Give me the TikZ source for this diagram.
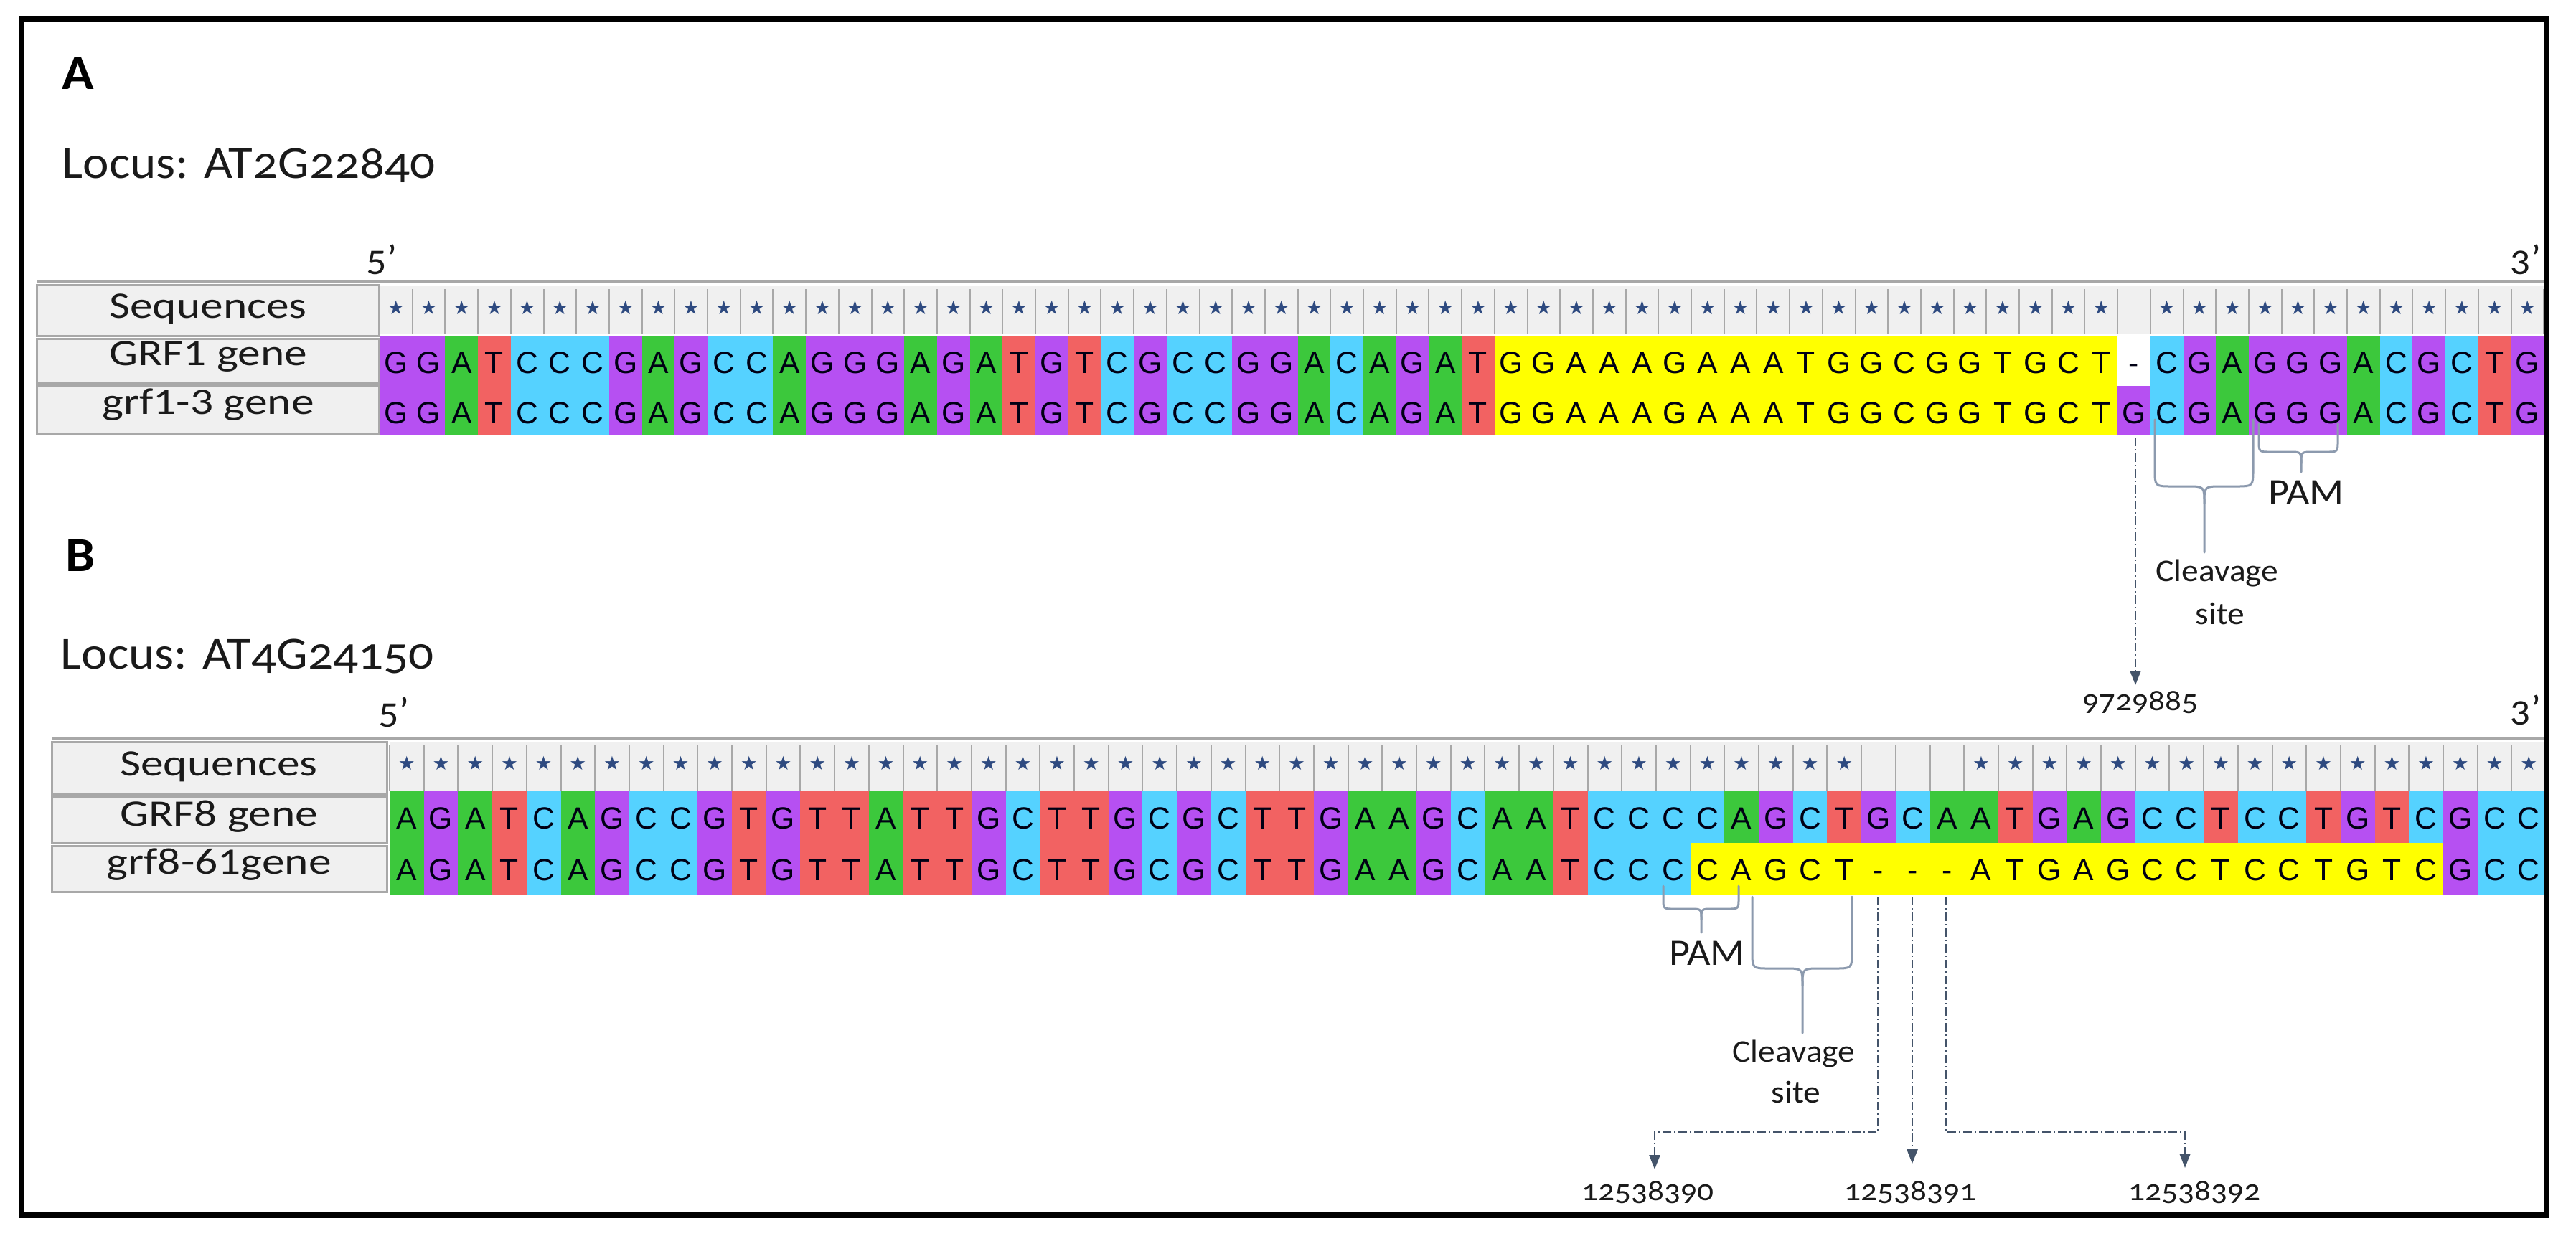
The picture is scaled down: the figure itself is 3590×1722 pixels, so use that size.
\documentclass[tikz,border=0pt]{standalone}
\usepackage{fontspec}
\setmainfont{Carlito}[FakeStretch=1.08,Numbers=OldStyle]
\newfontfamily\labfont{Carlito}[FakeStretch=1.22]
\newfontfamily\nucfont{Liberation Sans}
\newfontfamily\symfont{DejaVu Sans}
\usetikzlibrary{arrows.meta}
\definecolor{nucA}{RGB}{60,200,60}
\definecolor{nucC}{RGB}{85,210,255}
\definecolor{nucG}{RGB}{182,80,242}
\definecolor{nucT}{RGB}{242,98,98}
\definecolor{nucX}{RGB}{255,255,255}
\definecolor{hiyel}{RGB}{255,255,0}
\definecolor{starcol}{RGB}{46,74,128}
\definecolor{cellbg}{RGB}{240,240,240}
\definecolor{sepcol}{RGB}{168,168,168}
\definecolor{arrcol}{RGB}{68,84,106}
\definecolor{bracecol}{RGB}{140,154,174}
\definecolor{txtcol}{RGB}{26,26,26}
\def\glyphA{A}\def\glyphC{C}\def\glyphG{G}\def\glyphT{T}\def\glyphX{-}
\tikzset{
  nuc/.style={inner sep=0pt,text=black!92!blue,font=\nucfont\fontsize{12.8pt}{14pt}\selectfont},
  starn/.style={inner sep=0pt,text=starcol,font=\symfont\fontsize{8pt}{9pt}\selectfont},
  sepline/.style={draw=sepcol,line width=0.6pt},
  labbox/.style={fill=cellbg,draw=sepcol,line width=0.9pt},
  lab/.style={inner sep=0pt,text=txtcol,font=\labfont\fontsize{15.6pt}{18pt}\selectfont,anchor=base},
  panel/.style={inner sep=0pt,text=black,font=\bfseries\fontsize{20.4pt}{24pt}\selectfont,anchor=base west},
  locus/.style={inner sep=0pt,text=txtcol,font=\fontsize{19.2pt}{22pt}\selectfont,anchor=base west},
  prime/.style={inner sep=0pt,text=txtcol,font=\fontsize{15.6pt}{18pt}\selectfont,anchor=base},
  pamtxt/.style={inner sep=0pt,text=txtcol,font=\fontsize{15.6pt}{18pt}\selectfont,anchor=base},
  cleavtxt/.style={inner sep=0pt,text=txtcol,font=\fontsize{13.2pt}{16pt}\selectfont,anchor=base},
  numtxt/.style={inner sep=0pt,text=txtcol,font=\fontsize{12.6pt}{15pt}\selectfont,anchor=base},
  arr/.style={draw=arrcol,line width=0.75pt,dash pattern=on 3.6pt off 1.2pt on 0.6pt off 1.2pt,
    -{Triangle[length=6pt,width=4.5pt,fill=arrcol]}},
  bracel/.style={draw=bracecol,line width=0.9pt,line cap=round,line join=round}
}
% #1 name prefix, #2 ytop, #3 height, #4 x0, #5 w, #6 yellow from, #7 yellow to, #8 list
\newcommand\seqrow[8]{%
  \foreach \ch [count=\i from 0] in {#8} {%
    \ifnum\i<#6\relax\edef\cc{nuc\ch}\else\ifnum\i>#7\relax\edef\cc{nuc\ch}\else\edef\cc{hiyel}\fi\fi
    \fill[fill=\cc] ({#4+\i*#5},#2) rectangle ({#4+(\i+1)*#5+0.8},#2+#3);
    \node[nuc,anchor=base] (#1-\i) at ({#4+(\i+0.5)*#5},#2+52) {\csname glyph\ch\endcsname};
  }}
% #1 prefix, #2 ytop, #3 h, #4 x0, #5 w, #6 last index, #7 skip from, #8 skip to
\newcommand\starrow[8]{%
  \fill[cellbg] (#4,#2) rectangle ({#4+(#6+1)*#5},#2+#3);
  \foreach \i in {0,...,#6} {%
    \draw[sepline] ({#4+\i*#5},#2+4) -- ({#4+\i*#5},#2+#3);
    \ifnum\i<#7\relax\def\dostar{1}\else\ifnum\i>#8\relax\def\dostar{1}\else\def\dostar{0}\fi\fi
    \ifnum\dostar=1 \node[starn] (#1-\i) at ({#4+(\i+0.5)*#5},#2+#3/2-4) {★};\fi
  }
  \draw[sepline] ({#4+(#6+1)*#5},#2+4) -- ({#4+(#6+1)*#5},#2+#3);}
% brace: #1 xl, #2 xr, #3 ytop, #4 yh, #5 xt, #6 ybot, #7 r
\newcommand\ubrace[7]{%
  \draw[bracel] (#1,#3) -- (#1,#4-#7) .. controls (#1,#4) .. (#1+#7,#4) -- (#5-#7,#4)
     .. controls (#5,#4) .. (#5,#4+#7) -- (#5,#6);
  \draw[bracel] (#2,#3) -- (#2,#4-#7) .. controls (#2,#4) .. (#2-#7,#4) -- (#5+#7,#4)
     .. controls (#5,#4) .. (#5,#4+#7);}
\begin{document}
\begin{tikzpicture}[x=0.3pt,y=-0.3pt]
\useasboundingbox (0,0) rectangle (3590,1722);
\fill[white] (0,0) rectangle (3590,1722);

% ---------------- Panel A ----------------
\node[panel] (lblA) at (86,124) {A};
\node[locus] (locA) at (86,248) {Locus: AT2G22840};
\node[prime] (p5A) at (532,377) {5’};
\node[prime] (p3A) at (3520,377) {3’};

\draw[draw=sepcol,line width=1.2pt] (51,393) -- (3546,393);
\draw[labbox] (51,397) rectangle (528,468);
\draw[labbox] (51,472) rectangle (528,534);
\draw[labbox] (51,538) rectangle (528,604);
\node[lab] (sqA) at (290,443) {Sequences};
\node[lab] (g1A) at (290,509) {GRF1 gene};
\node[lab] (g2A) at (290,577) {grf1-3 gene};

\begin{scope}
\clip (0,0) rectangle (3546,1722);
\starrow{sA}{399}{67}{529}{45.7}{65}{53}{53}
\seqrow{rA}{468}{70}{529}{45.7}{34}{52}{G,G,A,T,C,C,C,G,A,G,C,C,A,G,G,G,A,G,A,T,G,T,C,G,C,C,G,G,A,C,A,G,A,T,G,G,A,A,A,G,A,A,A,T,G,G,C,G,G,T,G,C,T,X,C,G,A,G,G,G,A,C,G,C,T,G}
\seqrow{qA}{538}{69}{529}{45.7}{34}{52}{G,G,A,T,C,C,C,G,A,G,C,C,A,G,G,G,A,G,A,T,G,T,C,G,C,C,G,G,A,C,A,G,A,T,G,G,A,A,A,G,A,A,A,T,G,G,C,G,G,T,G,C,T,G,C,G,A,G,G,G,A,C,G,C,T,G}
\end{scope}

% annotations A
\ubrace{3003}{3140}{585}{678}{3072}{770}{24}
\ubrace{3148}{3258}{590}{630}{3207}{658}{16}
\node[pamtxt] (pamA) at (3214,703) {PAM};
\node[cleavtxt] (clA1) at (3090,810) {Cleavage};
\node[cleavtxt] (clA2) at (3094,870) {site};
\coordinate (aS) at (2976,610);
\coordinate (aE) at (2976,955);
\draw[arr] (aS) -- (aE);
\node[numtxt] (nA) at (2983,990) {9729885};

% ---------------- Panel B ----------------
\node[panel] (lblB) at (91,796) {B};
\node[locus] (locB) at (84,932) {Locus: AT4G24150};
\node[prime] (p5B) at (549,1008) {5’};
\node[prime] (p3B) at (3520,1005) {3’};

\draw[draw=sepcol,line width=1.2pt] (72,1029) -- (3546,1029);
\draw[labbox] (72,1034) rectangle (539,1107);
\draw[labbox] (72,1111) rectangle (539,1175);
\draw[labbox] (72,1179) rectangle (539,1243);
\node[lab] (sqB) at (305,1081) {Sequences};
\node[lab] (g1B) at (305,1151) {GRF8 gene};
\node[lab] (g2B) at (305,1218) {grf8-61gene};

\begin{scope}
\clip (0,0) rectangle (3546,1722);
\starrow{sB}{1034}{68}{543}{47.7}{62}{43}{45}
\seqrow{rB}{1103}{72}{543}{47.7}{999}{-1}{A,G,A,T,C,A,G,C,C,G,T,G,T,T,A,T,T,G,C,T,T,G,C,G,C,T,T,G,A,A,G,C,A,A,T,C,C,C,C,A,G,C,T,G,C,A,A,T,G,A,G,C,C,T,C,C,T,G,T,C,G,C,C}
\seqrow{qB}{1175}{73}{543}{47.7}{38}{59}{A,G,A,T,C,A,G,C,C,G,T,G,T,T,A,T,T,G,C,T,T,G,C,G,C,T,T,G,A,A,G,C,A,A,T,C,C,C,C,A,G,C,T,X,X,X,A,T,G,A,G,C,C,T,C,C,T,G,T,C,G,C,C}
\end{scope}

% annotations B
\ubrace{2318}{2423}{1235}{1267}{2371}{1300}{15}
\node[pamtxt] (pamB) at (2379,1345) {PAM};
\ubrace{2442}{2581}{1250}{1350}{2512}{1440}{24}
\node[cleavtxt] (clB1) at (2500,1480) {Cleavage};
\node[cleavtxt] (clB2) at (2503,1537) {site};

\coordinate (b1s) at (2617,1250);
\coordinate (b1m) at (2617,1578);
\coordinate (b1e) at (2306,1630);
\coordinate (b2s) at (2665,1250);
\coordinate (b2e) at (2665,1622);
\coordinate (b3s) at (2712,1250);
\coordinate (b3m) at (2712,1578);
\coordinate (b3e) at (3045,1628);
\draw[arr] (b1s) -- (b1m) -| (b1e);
\draw[arr] (b2s) -- (b2e);
\draw[arr] (b3s) -- (b3m) -| (b3e);
\node[numtxt] (nB1) at (2296,1673) {12538390};
\node[numtxt] (nB2) at (2662,1673) {12538391};
\node[numtxt] (nB3) at (3058,1673) {12538392};

% frame
\draw[black,line width=2.4pt] (30,27) rectangle (3549,1694);
\end{tikzpicture}
\end{document}
